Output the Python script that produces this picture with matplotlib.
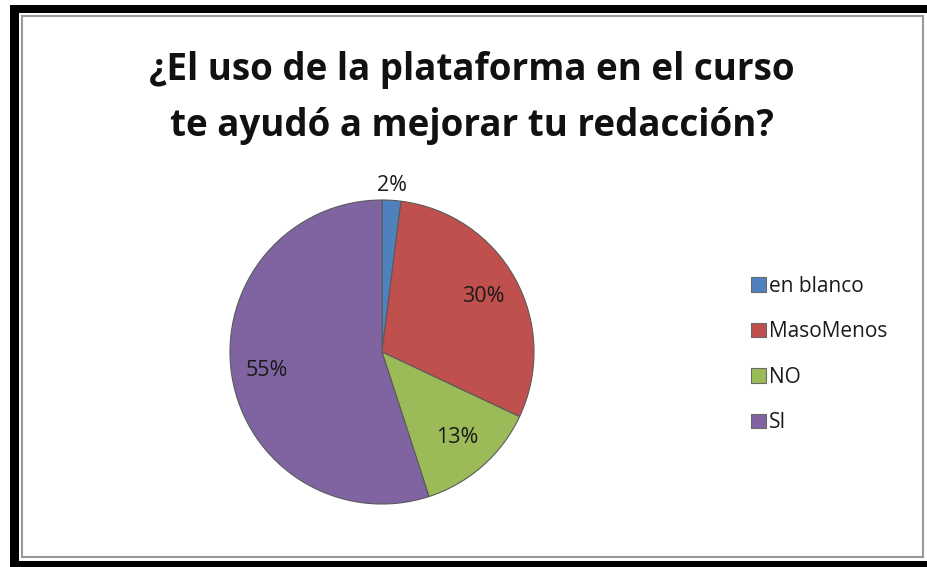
import matplotlib.pyplot as plt
import matplotlib.patches as mpatches
import numpy as np

categories = ['en blanco', 'MasoMenos', 'NO', 'SI']
values = [2, 30, 13, 55]
colors = ['#4F81BD', '#C0504D', '#9BBB59', '#8064A2']
title = '¿El uso de la plataforma en el curso\nte ayudó a mejorar tu redacción?'

plt.rcParams['font.family'] = ['Open Sans', 'DejaVu Sans']

W, H = 927, 567
fig = plt.figure(figsize=(W / 100, H / 100), dpi=100)
fig.patch.set_facecolor('white')

# frame of the screenshot: thick black on left/top/bottom, grey inner line
def px_rect(x0, y0, x1, y1, **kw):
    r = mpatches.Rectangle((x0 / W, 1 - y1 / H), (x1 - x0) / W, (y1 - y0) / H,
                           transform=fig.transFigure, **kw)
    fig.patches.append(r)

px_rect(10, 5, 927, 13, color='black', lw=0)
px_rect(10, 5, 19, 567, color='black', lw=0)
px_rect(10, 561, 927, 567, color='black', lw=0)
px_rect(22, 16, 923, 557, fill=False, edgecolor='#9a9a9a', lw=1.5)

fig.text(472 / W, 1 - 98 / H, title, ha='center', va='center',
         fontsize=26.5, fontweight='bold', color='#111111', linespacing=1.6)

# pie
cx, cy, r = 382, 352, 152
ax = fig.add_axes([(cx - r) / W, (H - cy - r) / H, 2 * r / W, 2 * r / H])
wedges, _ = ax.pie(values, colors=colors, startangle=90, counterclock=False,
                   wedgeprops=dict(edgecolor='#5a5a5a', linewidth=0.8))
ax.set_xlim(-1, 1)
ax.set_ylim(-1, 1)
ax.axis('off')

label_dist = [1.1, 0.76, 0.75, 0.77]
for w, v, d in zip(wedges, values, label_dist):
    ang = np.deg2rad((w.theta1 + w.theta2) / 2)
    ax.text(d * np.cos(ang), d * np.sin(ang), f'{v}%', ha='center', va='center',
            fontsize=15.5, color='#1a1a1a')

handles = [mpatches.Patch(facecolor=c, edgecolor='#6a6a6a', lw=0.8) for c in colors]
fig.legend(handles, categories, loc='upper left',
           bbox_to_anchor=(751 / W, 1 - 276 / H), frameon=False,
           fontsize=15, handlelength=0.7, handleheight=0.7,
           handletextpad=0.15, labelspacing=1.17, borderpad=0, borderaxespad=0,
           labelcolor='#1a1a1a')

fig.savefig('out.png', dpi=100)
